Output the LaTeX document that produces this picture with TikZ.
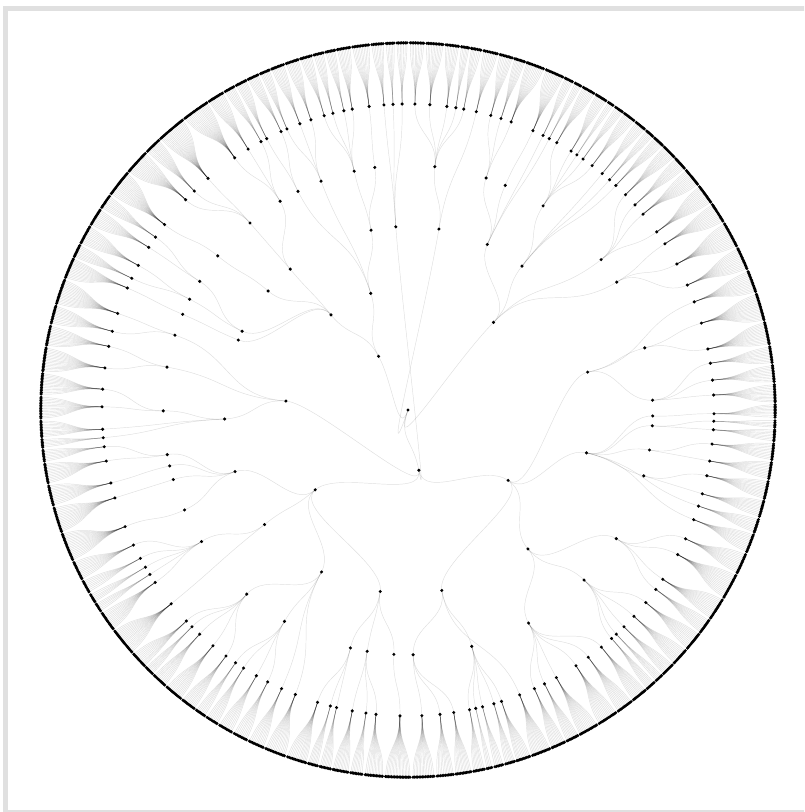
\documentclass[tikz,border=0pt]{standalone}
\usepackage{tikz}
\definecolor{framegray}{HTML}{E0E0E0}
\tikzset{
  treeedge/.style={draw=black,draw opacity=0.13,line width=0.45pt},
  treedot/.style={fill=black},
  pageframe/.style={draw=framegray,line width=5pt},
}
\newcommand\lev{61.2}
\newcommand\dotrad{1.7}
\newcommand\leafgap{0.25}
\newcommand\treenode[3]{%
  \coordinate (#1) at ({90-#2}:{#3*\lev});
  \expandafter\xdef\csname ta@#1\endcsname{#2}%
  \expandafter\xdef\csname tl@#1\endcsname{#3}%
  \fill[treedot] (#1) circle (\dotrad);}
\newcommand\treelink[2]{%
  \pgfmathsetmacro\midr{(\csname tl@#1\endcsname+\csname tl@#2\endcsname)/2*\lev}%
  \draw[treeedge] (#1) .. controls ({90-\csname ta@#1\endcsname}:\midr)
    and ({90-\csname ta@#2\endcsname}:\midr) .. (#2);}
\def\ringdata{1.3/e1,4.1/e1,7.3/e1,9.0/e1,10.5/e1,12.9/d1,15.7/e2,17.7/e2,19.7/e2,24.1/e3,26.2/d2,27.5/d2,29.1/e4,32.2/e4,33.5/e4,34.9/e4,37.0/e4,39.4/d3,41.2/d3,42.8/d3,45.3/e5,47.9/e5,50.2/e5,54.4/e5,57.1/e6,61.5/e6,65.9/e6,69.3/d4,73.5/e7,78.5/e7,81.2/e8,84.4/e8,87.2/e8,90.7/e9,92.1/e10,93.7/e10,96.4/e11,99.6/e11,102.4/e12,105.9/e12,108.3/d5,111.0/d5,114.9/e13,118.2/e13,123.6/e13,125.9/e13,129.0/e14,132.4/e14,135.1/e14,137.1/e14,138.3/e14,140.8/e15,143.9/e15,146.7/e15,151.0/e15,153.5/e15,155.6/e15,158.6/d7,162.2/e16,163.7/e16,165.9/e16,167.2/e16,168.4/e16,171.4/e17,174.0/e17,177.4/e17,181.5/e18,186.0/e19,187.9/e19,190.5/e19,193.5/e20,194.7/e20,197.2/e20,201.6/d9,204.4/d9,207.3/e21,209.7/e21,212.5/e21,214.3/e21,216.5/e22,219.6/e22,222.9/e22,224.9/e22,226.4/e22,230.7/d10,235.7/e23,237.5/e23,239.1/e23,241.0/e23,243.8/e23,247.6/e24,253.3/e25,256.2/e26,260.4/e27,263.1/e27,264.8/d12,266.4/d12,270.6/e28,273.9/e28,277.9/e29,282.0/e29,284.9/e30,288.4/e30,293.5/e31,295.5/e32,298.2/e32,302.1/e33,304.4/e33,307.3/e34,313.4/e35,315.7/e35,319.2/e35,325.5/e36,328.5/e36,331.3/e36,332.5/e37,335.5/e37,336.7/e38,339.3/e38,341.5/e38,344.1/e39,345.8/e39,347.9/e39,349.5/e39,352.7/e40,355.5/d18,357.2/d18,358.9/d18}

\begin{document}
\begin{tikzpicture}[x=1pt,y=1pt]
  \path[use as bounding box,clip] (-408,-402) rectangle (396,410);
  \draw[pageframe] (-402.5,-402.5) rectangle (420,401.5);

  \foreach \n/\a/\l in {root/199/0,
      b1/169.8/1, b2/331.3/1,
      c1/44.3/2, c2/125.1/2, c3/229.3/2, c4/274.2/2, c5/321.0/2, c6/342.3/2,
      d1/9.7/3, d2/25.6/3, d3/38.4/3, d4/78.1/3, d5/103.5/3, d6/139.2/3,
      d7/169.4/3, d8/188.7/3, d9/208.1/3, d10/231.4/3, d11/250.4/3, d12/267.2/3,
      d13/292.4/3, d14/295.4/3, d15/310.4/3, d16/320.1/3, d17/348.4/3, d18/356.2/3,
      e1/6.3/4, e2/18.6/4, e3/23.4/4, e4/33.5/4, e5/52.1/4, e6/58.5/4, e7/75.3/4,
      e8/87.7/4, e9/91.4/4, e10/93.7/4, e11/99.4/4, e12/105.6/4, e13/121.7/4,
      e14/134.0/4, e15/150.5/4, e16/164.9/4, e17/178.8/4, e18/183.3/4, e19/189.6/4,
      e20/193.6/4, e21/210.3/4, e22/221.2/4, e23/237.5/4, e24/245.9/4, e25/253.5/4,
      e26/256.8/4, e27/259.5/4, e28/269.8/4, e29/280.1/4, e30/287.8/4, e31/293.0/4,
      e32/296.9/4, e33/301.7/4, e34/309.0/4, e35/319.8/4, e36/328.5/4, e37/333.3/4,
      e38/339.2/4, e39/347.3/4, e40/352.2/4}
    {\treenode{\n}{\a}{\l}}

  \foreach \c/\p in {b1/root, b2/root, d1/root, c1/root,
      c2/b1, c3/b1, c4/b1, d18/b1, c5/b2, c6/b2,
      d2/c1, d3/c1, e5/c1, e6/c1, d4/c2, d5/c2, d6/c2, d7/c2,
      d8/c3, d9/c3, d10/c3, d11/c3, d12/c4, e29/c4, e30/c4,
      d13/c5, d14/c5, d15/c5, d16/c5, d17/c6, e37/c6, e38/c6,
      e1/d1, e2/d2, e3/d2, e4/d3, e7/d4, e8/d4, e9/d5, e10/d5, e11/d5, e12/d5,
      e13/d6, e14/d6, e15/d6, e16/d7, e17/d7, e18/d8, e19/d8, e20/d8,
      e21/d9, e22/d9, e23/d10, e24/d11, e25/d11, e26/d11, e27/d11, e28/d12,
      e31/d13, e32/d14, e33/d14, e34/d15, e35/d16, e36/d16, e39/d17, e40/d17}
    {\treelink{\p}{\c}}

  \foreach \a/\p [count=\i] in \ringdata
    {\treenode{r\i}{\a}{5}\treelink{\p}{r\i}\xdef\lastring{\i}}

  \foreach \a/\p [count=\i, remember=\a as \pa (initially -1.1)] in \ringdata {
    \pgfmathtruncatemacro\pj{\i==1 ? \lastring : \i-1}
    \pgfmathsetmacro\hw{(\a-\pa)/2}
    \pgfmathtruncatemacro\nlf{max(1,round(\hw/\leafgap-0.5))}
    \pgfmathsetmacro\lfstep{\hw/(\nlf+0.5)}
    \foreach \j in {1,...,\nlf} {
      \pgfmathsetmacro\angL{\pa+(\j-0.5)*\lfstep}
      \pgfmathsetmacro\angR{\a-(\j-0.5)*\lfstep}
      \treenode{la\i-\j}{\angL}{6}\treelink{r\pj}{la\i-\j}
      \treenode{lb\i-\j}{\angR}{6}\treelink{r\i}{lb\i-\j}
    }
  }
\end{tikzpicture}
\end{document}
